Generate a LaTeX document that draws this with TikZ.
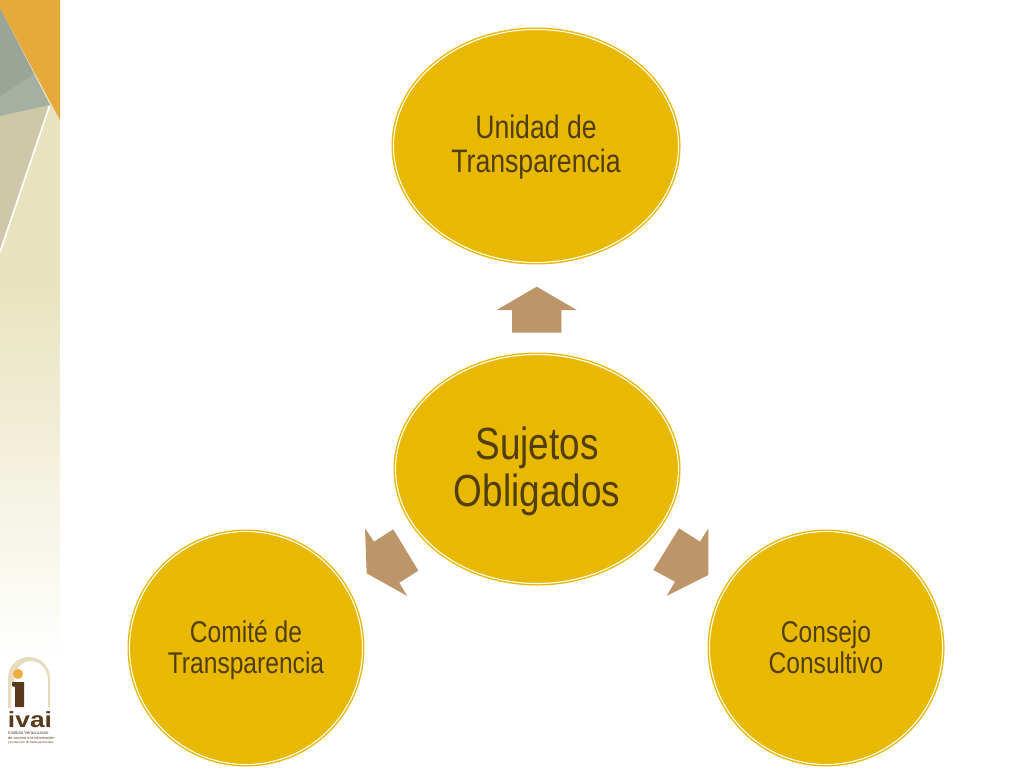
\documentclass[tikz,border=0pt]{standalone}
\usepackage{fontspec}
\setmainfont[FakeStretch=0.82]{Liberation Sans}
\newfontfamily\logofont{Liberation Sans}
\definecolor{gold}{HTML}{E9B800}
\definecolor{goldtext}{HTML}{503F0C}
\definecolor{arrowtan}{HTML}{BC9668}
\definecolor{orangeband}{HTML}{E5A93C}
\definecolor{slateA}{HTML}{9AA497}
\definecolor{slateB}{HTML}{A6B0A2}
\definecolor{sandA}{HTML}{CFC8A8}
\definecolor{sideA}{HTML}{E8E3BE}
\definecolor{logotan}{HTML}{E6DCBD}
\definecolor{logobrown}{HTML}{5A3A1C}
\definecolor{logoorange}{HTML}{EBAE3C}
\tikzset{
  x=1pt,y=-1pt,
  blockarrow/.style={fill=arrowtan,draw=none},
  bubble/.style={text=goldtext,align=center,inner sep=0pt},
  logoline/.style={text=logobrown,inner sep=0pt,anchor=west},
}
\newcommand{\gdisc}[4]{% cx cy rx ry
  \fill[gold] (#1,#2) ellipse [x radius=#3,y radius=#4];
  \draw[white,line width=1.1pt] (#1,#2) ellipse [x radius=#3-2,y radius=#4-2];
}
\begin{document}
\begin{tikzpicture}
\useasboundingbox (0,0) rectangle (1024,768);
\fill[white] (0,0) rectangle (1024,768);
% sidebar
\fill[sideA] (0,0) rectangle (60,280);
\shade[top color=sideA,bottom color=white] (0,280) rectangle (60,660);
\fill[sandA] (0,116) -- (49,105) -- (0,250) -- cycle;
\fill[slateB] (0,8) -- (50,105) -- (0,116) -- cycle;
\fill[slateA] (0,8) -- (34,74) -- (0,96) -- cycle;
\fill[orangeband] (0,0) -- (60,0) -- (60,120) -- (0,8) -- cycle;
\draw[white,line width=1.6pt] (49.5,106) -- (0,252);
% logo
\fill[logotan] (8,708) -- (8,678) arc[start angle=180,end angle=360,x radius=21,y radius=21] -- (50,708) -- (48,708) -- (48,680) arc[start angle=360,end angle=180,x radius=17,y radius=19] -- (14,682) -- (11,682) -- (11,708) -- cycle;
\fill[logoorange] (18,674) circle [radius=5];
\fill[logobrown] (12,682) -- (24,682) -- (24,707) -- (15,707) -- (15,687) -- (12,686) -- cycle;
\node[font=\logofont\bfseries\fontsize{22}{22}\selectfont,text=logobrown,inner sep=0pt,xscale=1.2] (logoword) at (30,719.5) {ivai};
\node[logoline,font=\logofont\fontsize{4.3}{5}\selectfont] (logoa) at (8,733) {Instituto Veracruzano};
\node[logoline,font=\logofont\fontsize{3.9}{5}\selectfont] (logob) at (8,738) {de acceso a la información};
\node[logoline,font=\logofont\fontsize{3.1}{5}\selectfont] (logoc) at (8,743) {y protección de datos personales};
% arrows
\fill[blockarrow] (536.7,286.7) -- (576.7,310) -- (561.3,310) -- (561.3,332.7) -- (512,332.7) -- (512,310) -- (496.7,310) -- cycle;
\fill[blockarrow] (365,528.3) -- (374,541.7) -- (393.3,529.3) -- (418.3,570.7) -- (399.3,582.7) -- (407.3,596) -- (366.7,573.3) -- cycle;
\fill[blockarrow] (708.3,528.3) -- (700,541.7) -- (679,528.3) -- (653.3,570) -- (675,581.7) -- (666.7,596) -- (708.3,575) -- cycle;
% discs
\gdisc{536}{146}{144.5}{118.5}
\gdisc{537}{469}{143.5}{116.5}
\gdisc{246}{648}{118.5}{118.5}
\gdisc{826}{648}{118.5}{118.5}
\node[bubble,font=\fontsize{32.5}{34}\selectfont] (u) at (536,147) {Unidad de\\Transparencia};
\node[bubble,font=\fontsize{45}{47}\selectfont] (s) at (537,471.5) {Sujetos\\Obligados};
\node[bubble,font=\fontsize{30}{31}\selectfont] (c) at (246,650) {Comité de\\Transparencia};
\node[bubble,font=\fontsize{30}{31}\selectfont] (k) at (826,647.3) {Consejo\\Consultivo};
\end{tikzpicture}
\end{document}
